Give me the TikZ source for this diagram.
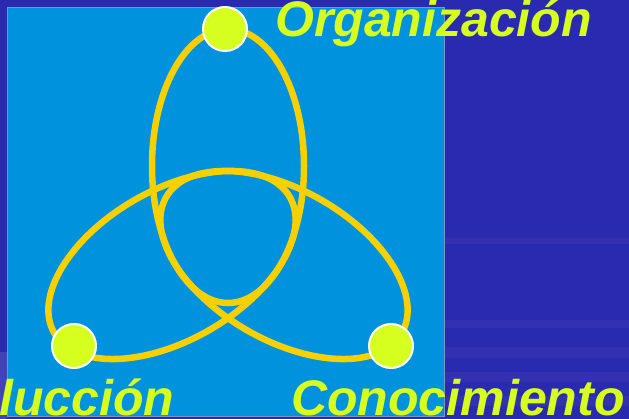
\documentclass[tikz,border=0pt]{standalone}
\usepackage{fontspec}
\setmainfont{Liberation Sans}
\definecolor{bgdark}{RGB}{42,42,176}
\definecolor{panelblue}{RGB}{0,146,221}
\definecolor{panelline}{RGB}{120,150,190}
\definecolor{ringgold}{RGB}{246,208,0}
\definecolor{lime}{RGB}{214,255,32}
\tikzset{
  ring/.style={draw=ringgold, line width=6.5pt},
  dot/.style={circle, fill=lime, draw=white, line width=2pt, minimum size=44pt, inner sep=0pt},
  label/.style={text=lime, inner sep=0pt, font=\fontsize{50}{51}\selectfont\bfseries\itshape},
  streak/.style={fill=white, opacity=0.035}
}
\begin{document}
\begin{tikzpicture}[x=1pt,y=-1pt]
\useasboundingbox (0,0) rectangle (629,419);
\clip (0,0) rectangle (629,419);
\fill[bgdark] (0,0) rectangle (629,419);
% faint streaks in the background
\fill[streak] (444,238) rectangle (629,244);
\fill[streak] (444,320) rectangle (629,328);
\fill[streak] (444,347) rectangle (629,358);
\fill[streak] (444,372) rectangle (629,382);
\fill[streak] (444,396) rectangle (629,406);
\fill[white, opacity=0.12] (0,352) rectangle (7,419);
% panel
\draw[panelline, fill=panelblue, line width=0.8pt] (7,7) rectangle (444,416);
% rings
\draw[ring] (228,166) ellipse [x radius=76, y radius=137];
\draw[ring, rotate around={30:(172,265)}] (172,265) ellipse [x radius=136, y radius=75];
\draw[ring, rotate around={-30:(284,265)}] (284,265) ellipse [x radius=136, y radius=75];
% dots
\node[dot] (top) at (225,29) {};
\node[dot] (left) at (74,346) {};
\node[dot] (right) at (391,346) {};
% labels
\node[label, anchor=base west] (org) at (275,37) {Organización};
\node[label, anchor=base west] (prod) at (-1,415) {lucción};
\node[label, anchor=base west] (con) at (291,415) {Conocimiento};
\end{tikzpicture}
\end{document}
